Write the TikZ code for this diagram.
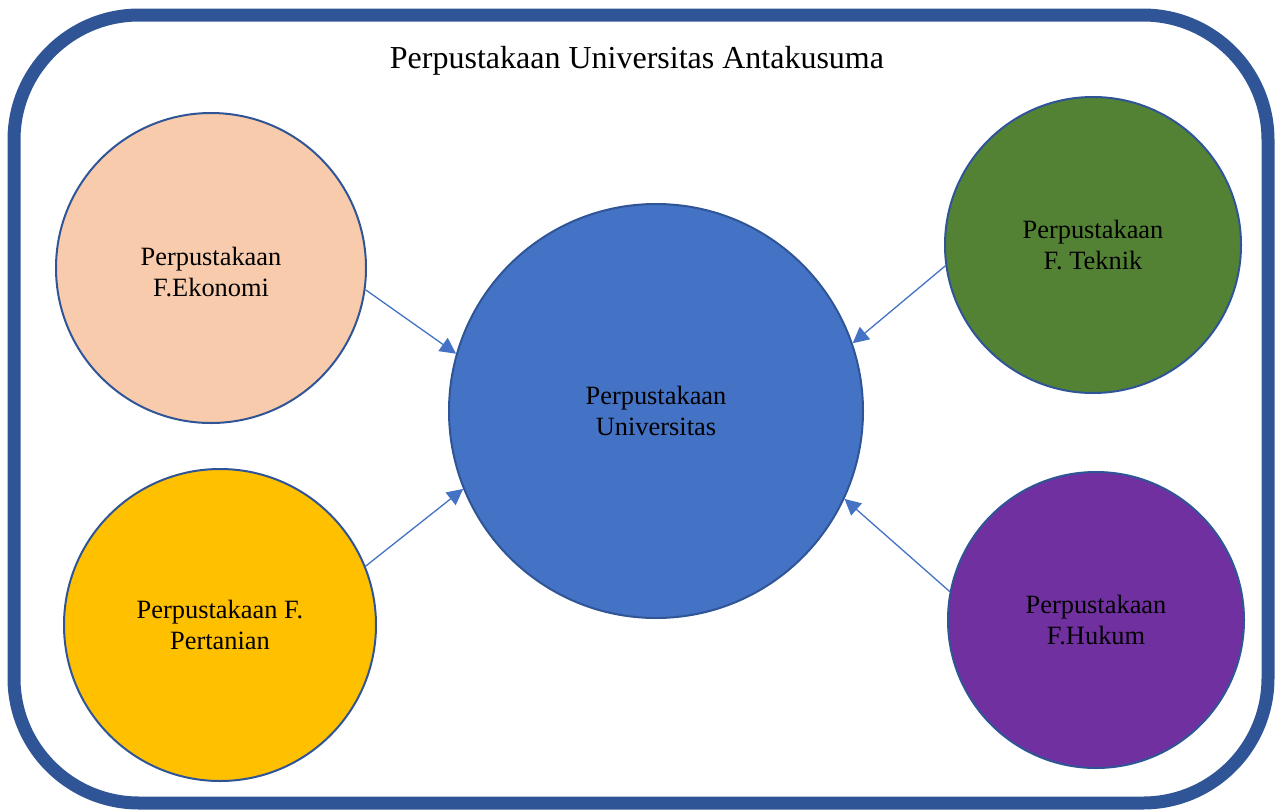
\documentclass[tikz,border=0pt]{standalone}
\usepackage{fontspec}
\setmainfont{Liberation Serif}
\usetikzlibrary{arrows.meta}
\definecolor{frameblue}{HTML}{2F5597}
\definecolor{univblue}{HTML}{4472C4}
\definecolor{ekopeach}{HTML}{F8CBAD}
\definecolor{tanigold}{HTML}{FFC000}
\definecolor{teknikgreen}{HTML}{548235}
\definecolor{hukumpurple}{HTML}{7030A0}
\begin{document}
\begin{tikzpicture}[
		x=1pt, y=-1pt,
		frame/.style={line width=13pt, draw=frameblue, rounded corners=125pt},
		lib/.style={circle, draw=frameblue, line width=2pt, align=center,
			font=\fontsize{26.4}{31}\selectfont, inner sep=0pt},
		link/.style={draw=univblue, line width=1.3pt, -{Triangle[length=16pt, width=16pt]}},
		title/.style={font=\fontsize{32}{38}\selectfont}
		]
	\useasboundingbox (0, 0) rectangle (1275, 809);

	% Frame
	\draw[frame] (14, 15) rectangle (1268, 803);
	\node[title] (title) at (637, 61) {Perpustakaan Universitas Antakusuma};

	% Libraries
	\node[lib, fill=univblue, minimum size=414pt] (univ) at (656, 411) {Perpustakaan\\Universitas};
	\node[lib, fill=ekopeach, minimum size=310pt] (eko) at (211, 268) {\rule{0pt}{27pt}Perpustakaan\\F.Ekonomi};
	\node[lib, fill=tanigold, minimum size=312pt] (tani) at (220, 625) {Perpustakaan F.\\Pertanian};
	\node[lib, fill=teknikgreen, minimum size=296pt] (teknik) at (1093, 245) {Perpustakaan\\F. Teknik};
	\node[lib, fill=hukumpurple, minimum size=296pt] (hukum) at (1096, 620) {Perpustakaan\\F.Hukum};

	% Links
	\draw[link] (eko.-8) -- (univ.164);
	\draw[link] (tani.22) -- (univ.202);
	\draw[link] (teknik.188) -- (univ.19);
	\draw[link] (hukum.169) -- (univ.-25);

\end{tikzpicture}
\end{document}
